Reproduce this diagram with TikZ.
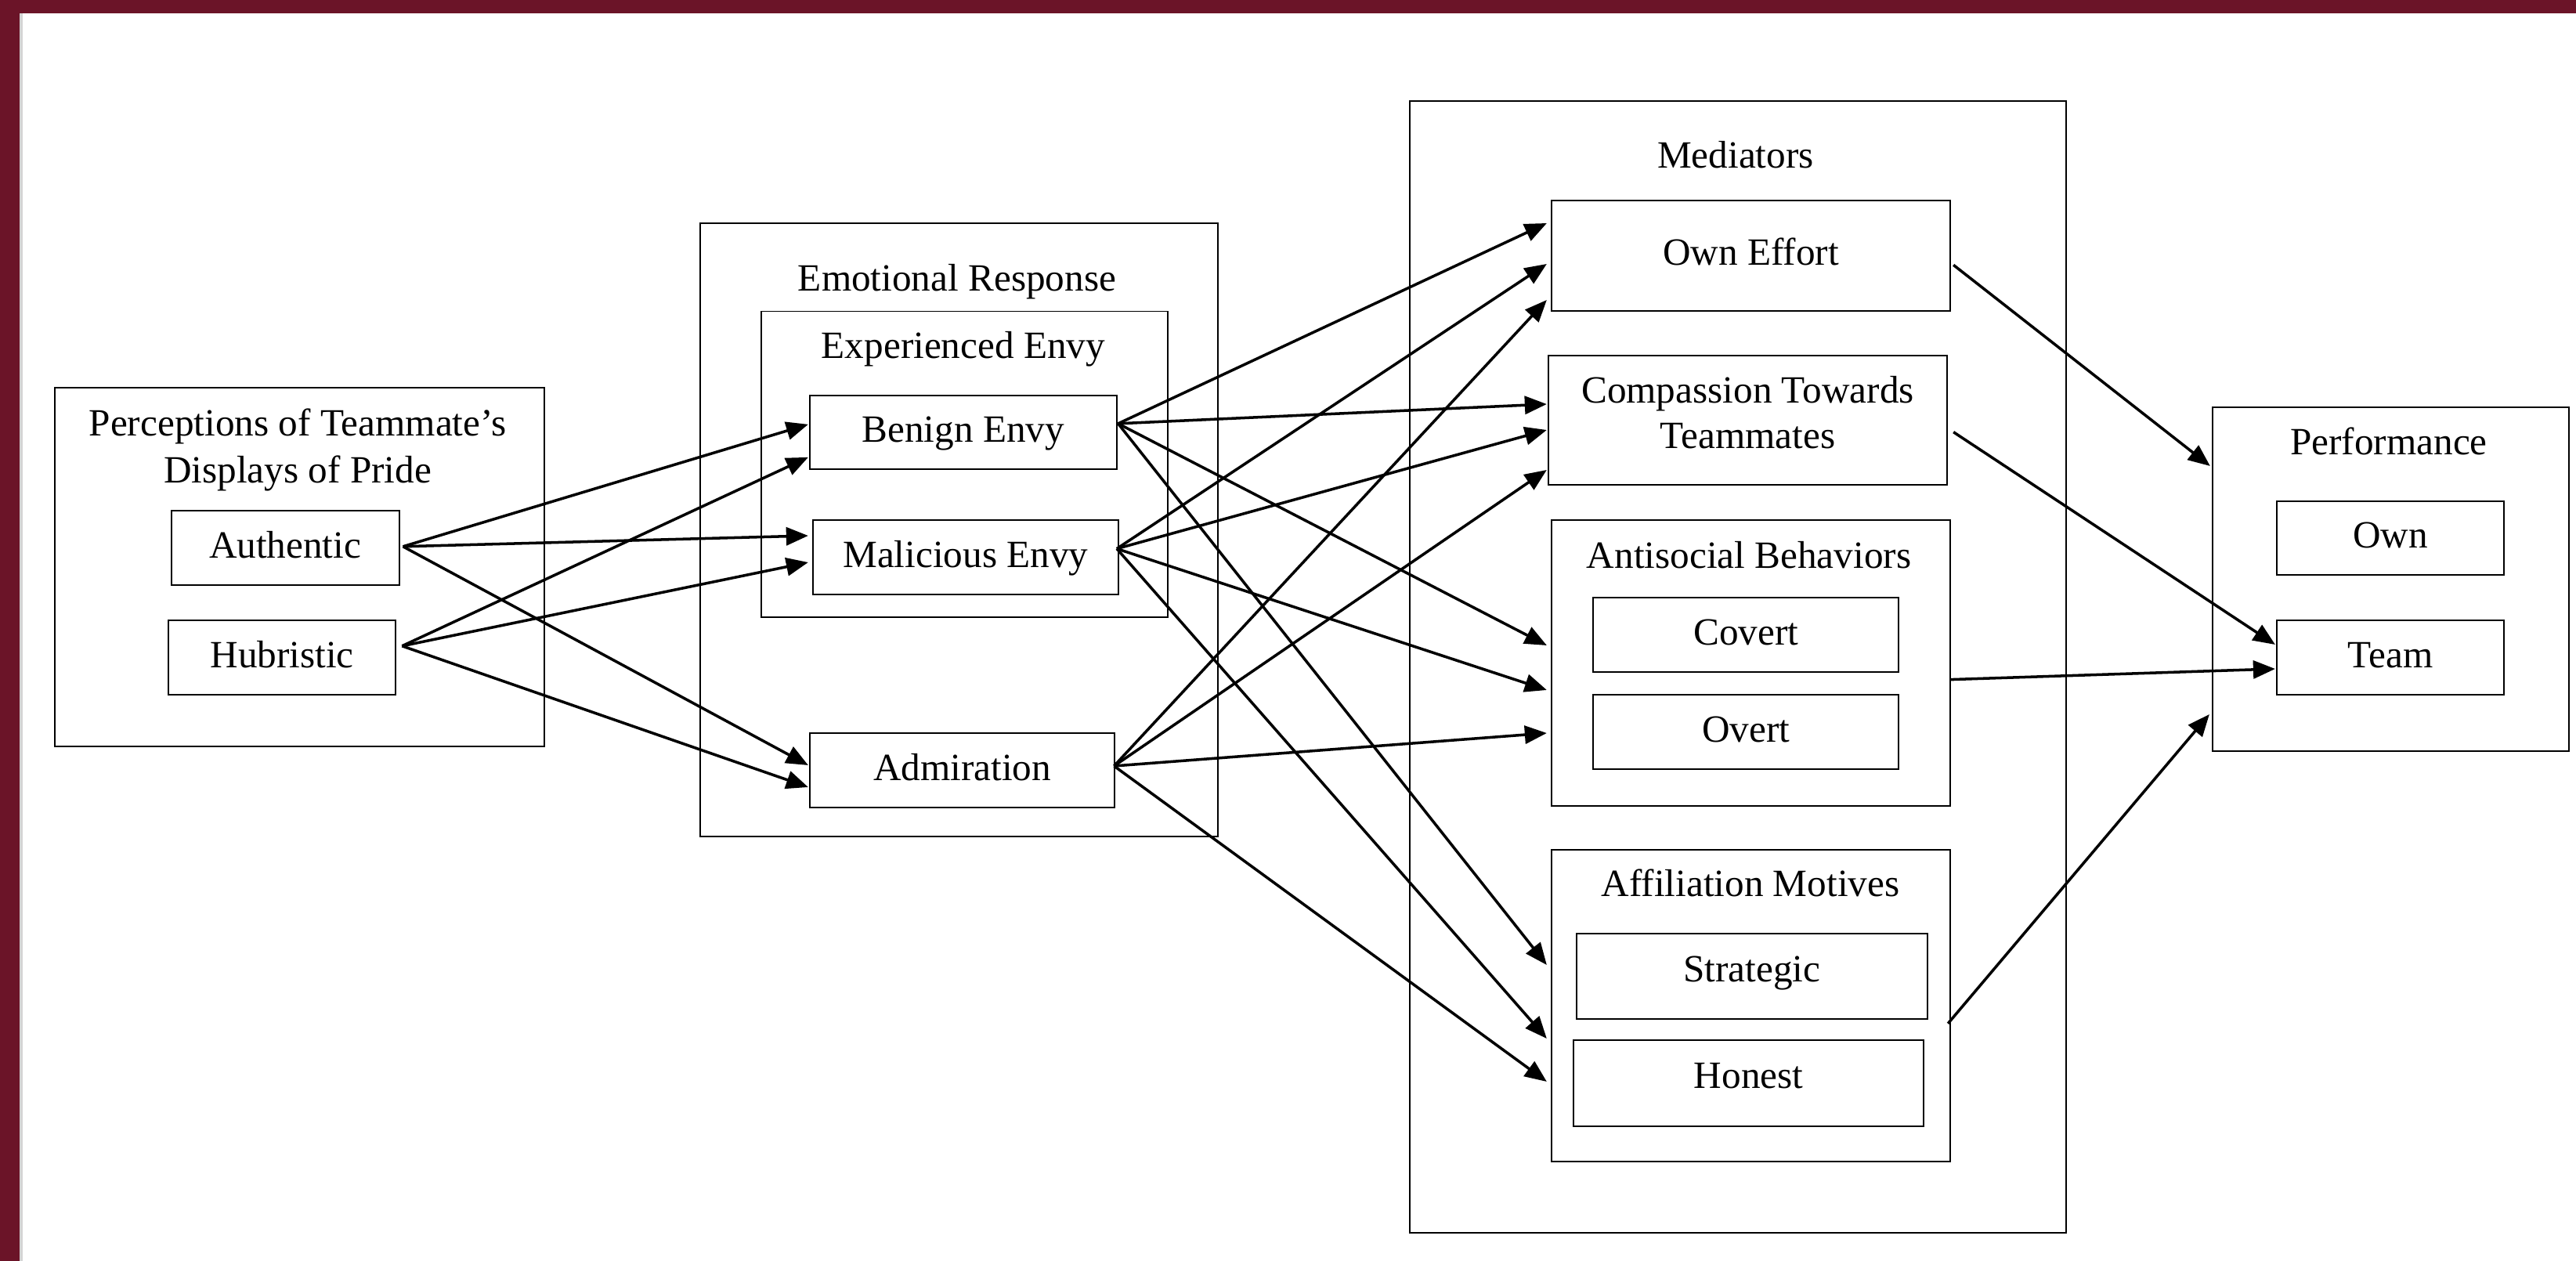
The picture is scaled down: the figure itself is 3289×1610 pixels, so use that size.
\documentclass[tikz,border=0pt]{standalone}
\usepackage{fontspec}
\setmainfont{Liberation Serif}
\usetikzlibrary{arrows.meta}
\definecolor{framered}{RGB}{107,20,40}
\definecolor{edgegray}{RGB}{212,212,212}
\begin{document}
\begin{tikzpicture}[x=0.01cm,y=-0.01cm,
  every node/.style={font=\fontsize{14}{17}\selectfont},
  bx/.style 2 args={draw=black, line width=0.55pt, inner sep=0pt, outer sep=0pt,
    minimum width=#1cm, minimum height=#2cm, text height=10.2pt, text depth=3pt},
  ttl/.style={anchor=base, inner sep=0pt},
  arr/.style={line width=1pt, -{Triangle[length=0.28cm,width=0.23cm]}}
]
\useasboundingbox (0,0) rectangle (3289,1610);
\fill[white] (0,0) rectangle (3289,1610);
\fill[framered] (0,0) rectangle (3289,17);
\fill[framered] (0,0) rectangle (25,1610);
\fill[edgegray] (25,17) rectangle (29.3,1610);

% Perceptions
\node[bx={6.242}{4.577}] (persp) at (382.6,723.85) {};
\node[ttl] (persptitleA) at (380,556.7) {Perceptions of Teammate’s};
\node[ttl] (persptitleB) at (380,616.7) {Displays of Pride};
\node[bx={2.908}{0.95}] (auth) at (364.1,699.8) {Authentic};
\node[bx={2.904}{0.95}] (hub) at (360.1,839.8) {Hubristic};

% Emotional response
\node[bx={6.607}{7.827}] (emo) at (1224.65,676.65) {};
\node[ttl] (emotitle) at (1222,372) {Emotional Response};
\node[bx={5.188}{3.903}] (expenvy) at (1231.8,592.75) {};
\node[ttl] (envytitle) at (1230,457.8) {Experienced Envy};
\node[bx={3.915}{0.943}] (benign) at (1229.75,551.85) {Benign Envy};
\node[bx={3.898}{0.944}] (malic) at (1232.9,711.6) {Malicious Envy};
\node[bx={3.893}{0.954}] (admir) at (1228.65,983.5) {Admiration};

% Mediators
\node[bx={8.38}{14.44}] (medi) at (2219,851.3) {};
\node[ttl] (medititle) at (2216,215) {Mediators};
\node[bx={5.09}{1.407}] (effort) at (2235.5,326.35) {Own Effort};
\node[bx={5.09}{1.647}] (compass) at (2231.5,536.65) {};
\node[ttl] (compassA) at (2231.5,515) {Compassion Towards};
\node[ttl] (compassB) at (2231.5,573) {Teammates};
\node[bx={5.09}{3.651}] (antis) at (2235.5,846.65) {};
\node[ttl] (antistitle) at (2233,726) {Antisocial Behaviors};
\node[bx={3.897}{0.947}] (covert) at (2229.15,810.75) {Covert};
\node[bx={3.897}{0.947}] (overt) at (2229.15,934.75) {Overt};
\node[bx={5.09}{3.978}] (affil) at (2235.5,1283.8) {};
\node[ttl] (affiltitle) at (2235,1145) {Affiliation Motives};
\node[bx={4.478}{1.091}, text depth=6.6pt] (strat) at (2236.9,1246.75) {Strategic};
\node[bx={4.472}{1.103}, text depth=6.6pt] (honest) at (2232.6,1382.85) {Honest};

% Performance
\node[bx={4.551}{4.385}] (perf) at (3052.25,739.25) {};
\node[ttl] (perftitle) at (3050,581) {Performance};
\node[bx={2.905}{0.942}] (own) at (3051.95,687.3) {Own};
\node[bx={2.905}{0.946}] (team) at (3051.95,839.7) {Team};

% source points
\coordinate (aOut) at ([shift={(5,-2)}]auth.east);
\coordinate (hOut) at ([shift={(8,-15)}]hub.east);
\coordinate (bOut) at ([shift={(2,-11)}]benign.east);
\coordinate (mOut) at ([shift={(-2,-11)}]malic.east);
\coordinate (adOut) at ([shift={(-1,-5.5)}]admir.east);
\coordinate (oeOut) at ([shift={(4,12)}]effort.east);
\coordinate (cpOut) at ([shift={(8,15)}]compass.east);
\coordinate (anOut) at ([shift={(0,21)}]antis.east);
\coordinate (afOut) at ([shift={(-3,23)}]affil.east);

% perceptions -> emotional response
\draw[arr] (aOut) -- ([shift={(-2,-10)}]benign.west);
\draw[arr] (aOut) -- ([shift={(-6,-27.6)}]malic.west);
\draw[arr] (aOut) -- ([shift={(-2,-6.5)}]admir.west);
\draw[arr] (hOut) -- ([shift={(-2,32)}]benign.west);
\draw[arr] (hOut) -- ([shift={(-6,6.4)}]malic.west);
\draw[arr] (hOut) -- ([shift={(-2,21.5)}]admir.west);

% emotional response -> mediators
\draw[arr] (bOut) -- ([shift={(-6,-41.35)}]effort.west);
\draw[arr] (bOut) -- ([shift={(-2,-20.65)}]compass.west);
\draw[arr] (bOut) -- ([shift={(-6,-22.65)}]antis.west);
\draw[arr] (bOut) -- ([shift={(-6,-51.8)}]affil.west);
\draw[arr] (mOut) -- ([shift={(-6,10.65)}]effort.west);
\draw[arr] (mOut) -- ([shift={(-2,12.35)}]compass.west);
\draw[arr] (mOut) -- ([shift={(-6,34.35)}]antis.west);
\draw[arr] (mOut) -- ([shift={(-6,42.2)}]affil.west);
\draw[arr] (adOut) -- ([shift={(-6,56.65)}]effort.west);
\draw[arr] (adOut) -- ([shift={(-2,63.35)}]compass.west);
\draw[arr] (adOut) -- ([shift={(-6,89.35)}]antis.west);
\draw[arr] (adOut) -- ([shift={(-6,97.2)}]affil.west);

% mediators -> performance
\draw[arr] (oeOut) -- ([shift={(-2.7,-144.25)}]perf.west);
\draw[arr] (cpOut) -- ([shift={(-1.7,-16.7)}]team.west);
\draw[arr] (anOut) -- ([shift={(-1.7,14.3)}]team.west);
\draw[arr] (afOut) -- ([shift={(-3.7,172.75)}]perf.west);
\end{tikzpicture}
\end{document}
